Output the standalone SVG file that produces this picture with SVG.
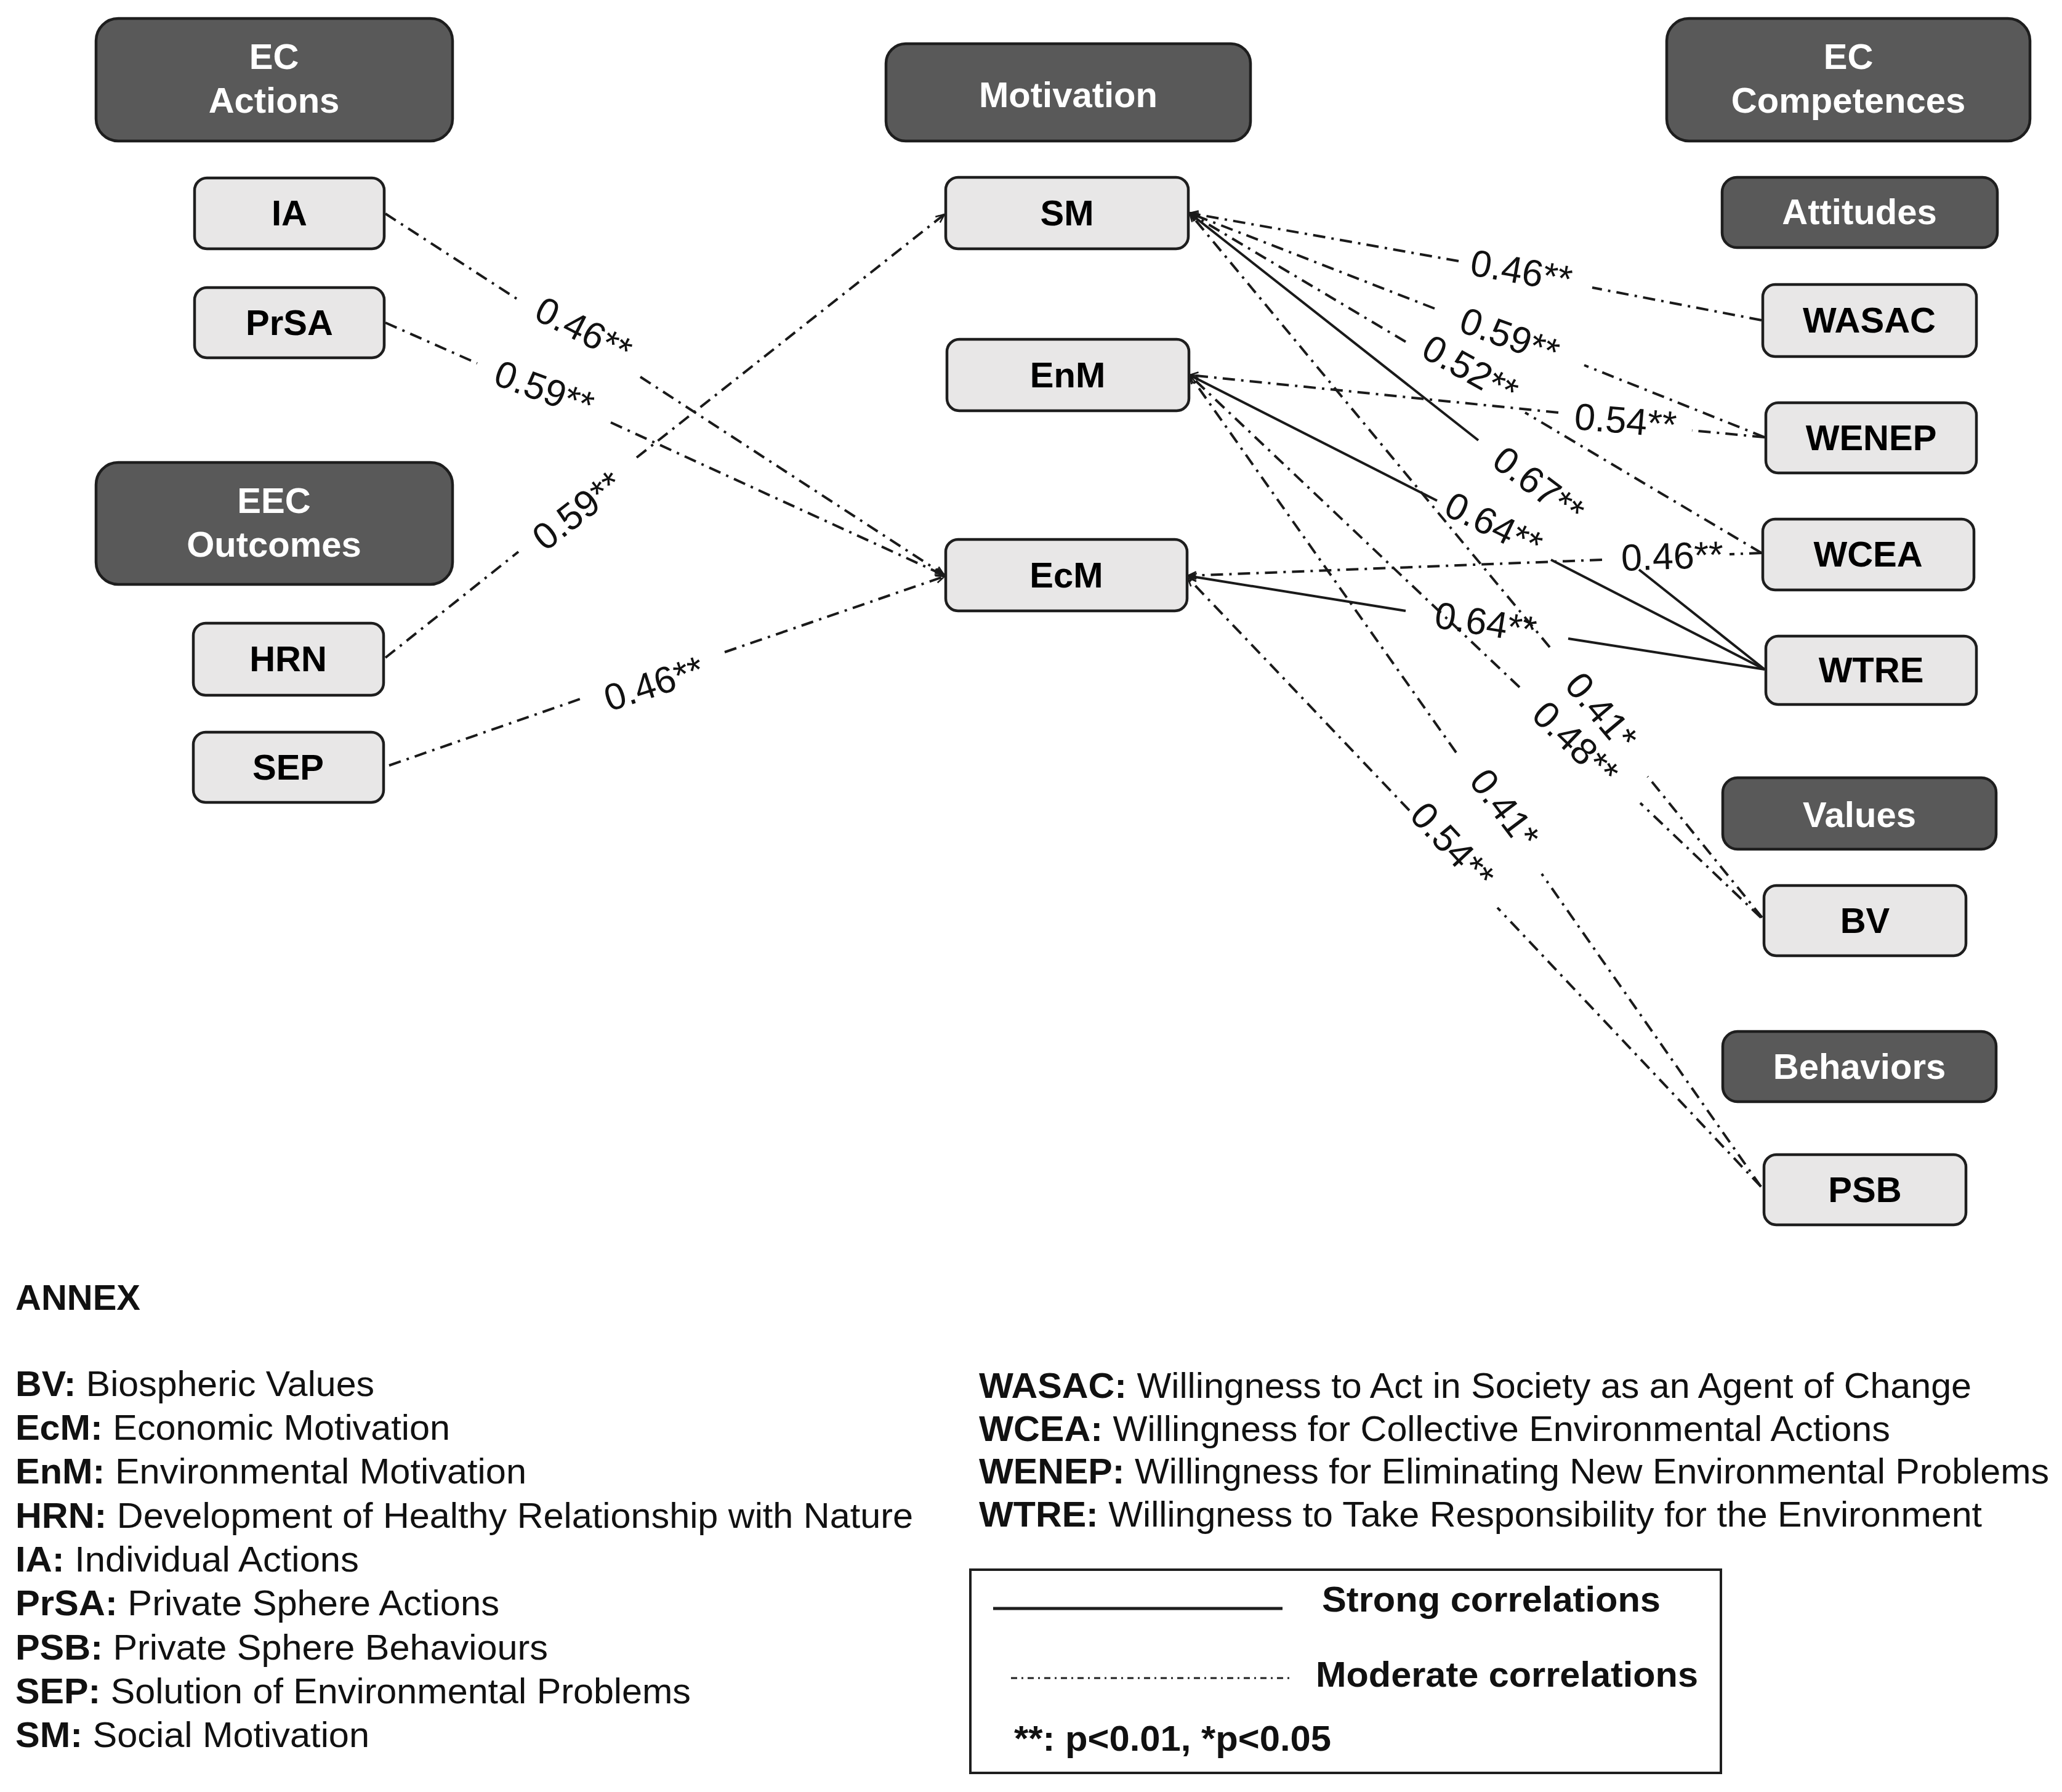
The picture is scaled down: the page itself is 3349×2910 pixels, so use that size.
<svg xmlns="http://www.w3.org/2000/svg" width="3349" height="2910" viewBox="0 0 3349 2910">
<style>
text{font-family:"Liberation Sans",Arial,sans-serif;}
.dark{fill:#595959;stroke:#1e1e1e;stroke-width:4.5;}
.light{fill:#e8e7e7;stroke:#1e1e1e;stroke-width:4.5;}
.tw{fill:#fff;font-weight:bold;font-size:58px;text-anchor:middle;}
.tb{fill:#000;font-weight:bold;font-size:58px;text-anchor:middle;}
.mod{fill:none;stroke:#1a1a1a;stroke-width:4;stroke-dasharray:20 10 4 10;marker-end:url(#arr);}
.str{fill:none;stroke:#1a1a1a;stroke-width:4;marker-end:url(#arr);}
.lab{font-size:61px;fill:#111;text-anchor:middle;}
.leg{font-size:58px;fill:#111;}
.legb{font-weight:bold;}
</style>
<defs>
<marker id="arr" viewBox="-16 -8 18 16" refX="0" refY="0" markerWidth="18" markerHeight="16" markerUnits="userSpaceOnUse" orient="auto">
<path d="M-14,-6 L0,0 L-14,6" fill="none" stroke="#1a1a1a" stroke-width="2.5"/>
</marker>
</defs>
<rect width="3349" height="2910" fill="#fff"/>

<g id="connectors">
<path class="mod" d="M626,347 L839,485 M1040,612 L1533,933"/>
<path class="mod" d="M626,524 L775,590 M992,686 L1533,934"/>
<path class="mod" d="M626,1068 L842,896 M1034,743 L1534,348"/>
<path class="mod" d="M632,1243 L951,1132 M1177,1059 L1534,936"/>
<path class="mod" d="M2861,520 L2586,467 M2369,424 L1932,346"/>
<path class="mod" d="M2866,710 L2573,593 M2330,501 L1932,346"/>
<path class="mod" d="M2861,898 L2477,670 M2283,555 L1932,346"/>
<path class="str" d="M2866,1087 L2662,925 M2401,715 L1932,346"/>
<path class="mod" d="M2866,710 L2748,699 M2531,670 L1932,609"/>
<path class="str" d="M2866,1087 L2519,909 M2334,813 L1932,609"/>
<path class="mod" d="M2861,898 L2809,900 M2602,909 L1929,935"/>
<path class="str" d="M2866,1087 L2547,1037 M2283,992 L1929,935"/>
<path class="mod" d="M2862,1490 L2676,1261 M2517,1051 L1932,346"/>
<path class="mod" d="M2860,1490 L2664,1304 M2468,1116 L1932,609"/>
<path class="mod" d="M2860,1927 L2504,1419 M2365,1222 L1932,609"/>
<path class="mod" d="M2860,1927 L2432,1474 M2289,1316 L1929,938"/>
</g>

<g id="edge-labels">
<text class="lab" transform="translate(948,536) rotate(27)" y="21">0.46**</text>
<text class="lab" transform="translate(884,632) rotate(20)" y="21">0.59**</text>
<text class="lab" transform="translate(938,829) rotate(-38)" y="21">0.59**</text>
<text class="lab" transform="translate(1062,1110) rotate(-18)" y="21">0.46**</text>
<text class="lab" transform="translate(2471,440) rotate(10)" y="21">0.46**</text>
<text class="lab" transform="translate(2452,546) rotate(20)" y="21">0.59**</text>
<text class="lab" transform="translate(2388,600) rotate(29)" y="21">0.52**</text>
<text class="lab" transform="translate(2640,683) rotate(5)" y="21">0.54**</text>
<text class="lab" transform="translate(2499,788) rotate(37)" y="21">0.67**</text>
<text class="lab" transform="translate(2426,852) rotate(26)" y="21">0.64**</text>
<text class="lab" transform="translate(2716,903) rotate(-2)" y="21">0.46**</text>
<text class="lab" transform="translate(2413,1011) rotate(9)" y="21">0.64**</text>
<text class="lab" transform="translate(2601,1155) rotate(50)" y="21">0.41*</text>
<text class="lab" transform="translate(2559,1207) rotate(44)" y="21">0.48**</text>
<text class="lab" transform="translate(2444,1313) rotate(53)" y="21">0.41*</text>
<text class="lab" transform="translate(2359,1373) rotate(47)" y="21">0.54**</text>
</g>

<g id="ec_actions"><rect class="dark" x="156" y="30" width="579" height="199" rx="36"/><text class="tw" x="445" y="112">EC</text><text class="tw" x="445" y="183">Actions</text></g>
<g id="motivation"><rect class="dark" x="1439" y="71" width="592" height="158" rx="32"/><text class="tw" x="1735" y="174">Motivation</text></g>
<g id="ec_competences"><rect class="dark" x="2707" y="30" width="590" height="199" rx="36"/><text class="tw" x="3002" y="112">EC</text><text class="tw" x="3002" y="183">Competences</text></g>
<g id="eec_outcomes"><rect class="dark" x="156" y="751" width="579" height="198" rx="36"/><text class="tw" x="445" y="833">EEC</text><text class="tw" x="445" y="904">Outcomes</text></g>
<g id="attitudes"><rect class="dark" x="2797" y="288" width="447" height="114" rx="24"/><text class="tw" x="3020" y="364">Attitudes</text></g>
<g id="values"><rect class="dark" x="2798" y="1263" width="444" height="116" rx="24"/><text class="tw" x="3020" y="1343">Values</text></g>
<g id="behaviors"><rect class="dark" x="2798" y="1675" width="444" height="114" rx="24"/><text class="tw" x="3020" y="1752">Behaviors</text></g>

<g id="IA"><rect class="light" x="316" y="289" width="308" height="115" rx="20"/><text class="tb" x="470" y="366">IA</text></g>
<g id="PrSA"><rect class="light" x="316" y="467" width="308" height="114" rx="20"/><text class="tb" x="470" y="544">PrSA</text></g>
<g id="HRN"><rect class="light" x="314" y="1012" width="309" height="117" rx="20"/><text class="tb" x="468" y="1090">HRN</text></g>
<g id="SEP"><rect class="light" x="314" y="1189" width="309" height="114" rx="20"/><text class="tb" x="468" y="1266">SEP</text></g>
<g id="SM"><rect class="light" x="1536" y="288" width="394" height="116" rx="20"/><text class="tb" x="1733" y="366">SM</text></g>
<g id="EnM"><rect class="light" x="1538" y="551" width="393" height="116" rx="20"/><text class="tb" x="1734" y="629">EnM</text></g>
<g id="EcM"><rect class="light" x="1536" y="876" width="392" height="116" rx="20"/><text class="tb" x="1732" y="954">EcM</text></g>
<g id="WASAC"><rect class="light" x="2863" y="462" width="347" height="117" rx="20"/><text class="tb" x="3036" y="540">WASAC</text></g>
<g id="WENEP"><rect class="light" x="2868" y="654" width="342" height="114" rx="20"/><text class="tb" x="3039" y="731">WENEP</text></g>
<g id="WCEA"><rect class="light" x="2863" y="843" width="343" height="115" rx="20"/><text class="tb" x="3034" y="920">WCEA</text></g>
<g id="WTRE"><rect class="light" x="2868" y="1033" width="342" height="111" rx="20"/><text class="tb" x="3039" y="1108">WTRE</text></g>
<g id="BV"><rect class="light" x="2865" y="1438" width="328" height="114" rx="20"/><text class="tb" x="3029" y="1515">BV</text></g>
<g id="PSB"><rect class="light" x="2865" y="1875" width="328" height="114" rx="20"/><text class="tb" x="3029" y="1952">PSB</text></g>

<g id="annex">
<text class="leg legb" x="25" y="2127" font-size="60">ANNEX</text>
<text class="leg" x="25" y="2267" textLength="583" lengthAdjust="spacingAndGlyphs"><tspan class="legb">BV:</tspan> Biospheric Values</text>
<text class="leg" x="25" y="2338" textLength="706" lengthAdjust="spacingAndGlyphs"><tspan class="legb">EcM:</tspan> Economic Motivation</text>
<text class="leg" x="25" y="2409" textLength="830" lengthAdjust="spacingAndGlyphs"><tspan class="legb">EnM:</tspan> Environmental Motivation</text>
<text class="leg" x="25" y="2481" textLength="1458" lengthAdjust="spacingAndGlyphs"><tspan class="legb">HRN:</tspan> Development of Healthy Relationship with Nature</text>
<text class="leg" x="25" y="2552" textLength="558" lengthAdjust="spacingAndGlyphs"><tspan class="legb">IA:</tspan> Individual Actions</text>
<text class="leg" x="25" y="2623" textLength="786" lengthAdjust="spacingAndGlyphs"><tspan class="legb">PrSA:</tspan> Private Sphere Actions</text>
<text class="leg" x="25" y="2695" textLength="865" lengthAdjust="spacingAndGlyphs"><tspan class="legb">PSB:</tspan> Private Sphere Behaviours</text>
<text class="leg" x="25" y="2766" textLength="1097" lengthAdjust="spacingAndGlyphs"><tspan class="legb">SEP:</tspan> Solution of Environmental Problems</text>
<text class="leg" x="25" y="2837" textLength="575" lengthAdjust="spacingAndGlyphs"><tspan class="legb">SM:</tspan> Social Motivation</text>
<text class="leg" x="1590" y="2270" textLength="1612" lengthAdjust="spacingAndGlyphs"><tspan class="legb">WASAC:</tspan> Willingness to Act in Society as an Agent of Change</text>
<text class="leg" x="1590" y="2340" textLength="1480" lengthAdjust="spacingAndGlyphs"><tspan class="legb">WCEA:</tspan> Willingness for Collective Environmental Actions</text>
<text class="leg" x="1590" y="2409" textLength="1738" lengthAdjust="spacingAndGlyphs"><tspan class="legb">WENEP:</tspan> Willingness for Eliminating New Environmental Problems</text>
<text class="leg" x="1590" y="2479" textLength="1629" lengthAdjust="spacingAndGlyphs"><tspan class="legb">WTRE:</tspan> Willingness to Take Responsibility for the Environment</text>
</g>

<g id="legend">
<rect x="1576" y="2549" width="1219" height="330" fill="none" stroke="#1e1e1e" stroke-width="4"/>
<line x1="1613" y1="2612" x2="2083" y2="2612" stroke="#1e1e1e" stroke-width="5"/>
<text class="leg legb" x="2147" y="2617" textLength="550" lengthAdjust="spacingAndGlyphs">Strong correlations</text>
<line x1="1642" y1="2725" x2="2095" y2="2725" stroke="#1e1e1e" stroke-width="3" stroke-dasharray="10 7 3 7"/>
<text class="leg legb" x="2137" y="2739" textLength="621" lengthAdjust="spacingAndGlyphs">Moderate correlations</text>
<text class="leg legb" x="1647" y="2843" textLength="515" lengthAdjust="spacingAndGlyphs">**: p&lt;0.01, *p&lt;0.05</text>
</g>
</svg>
